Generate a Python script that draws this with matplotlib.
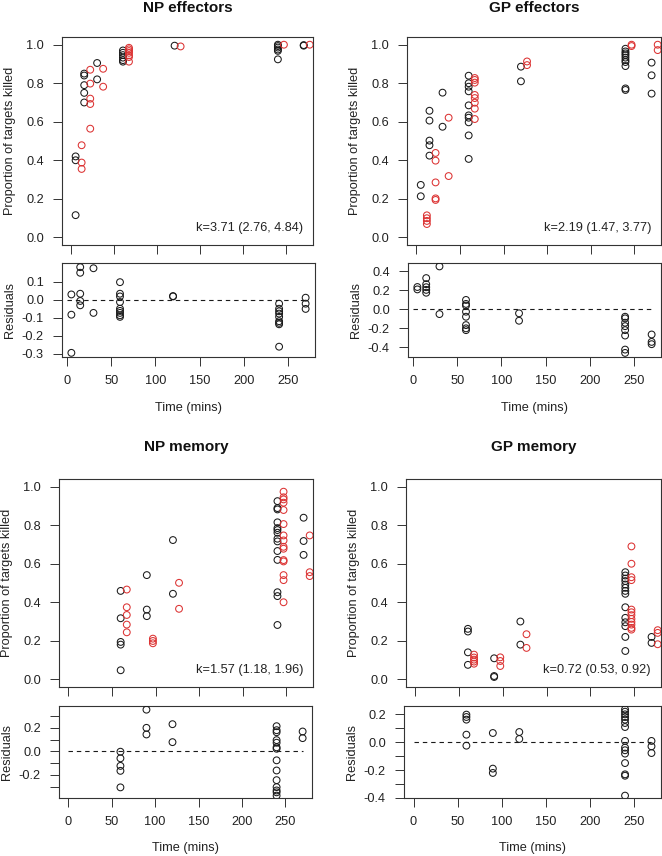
import matplotlib
matplotlib.use("Agg")
import matplotlib.pyplot as plt
import numpy as np

plt.rcParams['font.family'] = ['Liberation Sans', 'DejaVu Sans']
plt.rcParams['axes.unicode_minus'] = False

# ---------------- data ----------------
titles = ["NP effectors", "GP effectors", "NP memory", "GP memory"]
k_labels = ["k=3.71 (2.76, 4.84)", "k=2.19 (1.47, 3.77)",
            "k=1.57 (1.18, 1.96)", "k=0.72 (0.53, 0.92)"]

# NP effectors
np_eff_black_t = [5]*3 + [15]*5 + [30]*2 + [60]*6 + [120] + [240]*6 + [270]*2
np_eff_black_y = [0.42, 0.40, 0.115,
                  0.85, 0.84, 0.79, 0.75, 0.70,
                  0.905, 0.82,
                  0.97, 0.958, 0.946, 0.933, 0.92, 0.912,
                  0.995,
                  1.0, 0.993, 0.985, 0.975, 0.968, 0.924,
                  0.998, 0.995]
np_eff_red_t = [5]*3 + [15]*5 + [30]*2 + [60]*7 + [120] + [240] + [270]
np_eff_red_y = [0.478, 0.388, 0.355,
                0.87, 0.798, 0.72, 0.692, 0.564,
                0.875, 0.782,
                0.984, 0.976, 0.967, 0.958, 0.945, 0.936, 0.912,
                0.991, 1.0, 1.0]
np_eff_res_t = [5]*3 + [15]*5 + [30]*2 + [60]*9 + [120]*2 + [240]*9 + [270]*3
np_eff_res = [0.029, -0.083, -0.294,
              0.18, 0.149, 0.033, -0.007, -0.031,
              0.174, -0.073,
              0.097, 0.033, 0.018, -0.013, -0.05, -0.062, -0.073, -0.086, -0.095,
              0.02, 0.018,
              -0.022, -0.05, -0.064, -0.077, -0.095, -0.119, -0.128, -0.136, -0.26,
              0.011, -0.022, -0.051]

# GP effectors
gp_eff_black_t = [5]*2 + [15]*5 + [30]*2 + [60]*10 + [120]*2 + [240]*10 + [270]*3
gp_eff_black_y = [0.272, 0.213,
                  0.657, 0.606, 0.502, 0.478, 0.424,
                  0.751, 0.574,
                  0.839, 0.80, 0.782, 0.758, 0.685, 0.633, 0.621, 0.597, 0.529, 0.407,
                  0.886, 0.81,
                  0.979, 0.965, 0.955, 0.945, 0.933, 0.92, 0.91, 0.889, 0.773, 0.765,
                  0.907, 0.841, 0.746]
gp_eff_red_t = [5]*4 + [15]*5 + [30]*2 + [60]*8 + [120]*2 + [240]*2 + [270]*2
gp_eff_red_y = [0.114, 0.099, 0.085, 0.069,
                0.438, 0.398, 0.285, 0.202, 0.194,
                0.621, 0.318,
                0.827, 0.817, 0.803, 0.739, 0.723, 0.699, 0.668, 0.614,
                0.913, 0.894,
                1.0, 0.993,
                1.0, 0.972]
gp_eff_res_t = [5]*2 + [15]*5 + [30]*2 + [60]*8 + [120]*2 + [240]*8 + [270]*3
gp_eff_res = [0.235, 0.21,
              0.329, 0.265, 0.233, 0.205, 0.175,
              0.452, -0.05,
              0.099, 0.057, 0.039, -0.025, -0.078, -0.166, -0.20, -0.219,
              -0.042, -0.12,
              -0.078, -0.095, -0.141, -0.177, -0.219, -0.276, -0.424, -0.459,
              -0.265, -0.343, -0.367]

# NP memory
np_mem_black_t = [60]*5 + [90]*3 + [120]*2 + [240]*14 + [270]*3
np_mem_black_y = [0.459, 0.317, 0.194, 0.18, 0.047,
                  0.541, 0.362, 0.328,
                  0.723, 0.444,
                  0.925, 0.889, 0.882, 0.815, 0.785, 0.775, 0.761, 0.73, 0.716,
                  0.666, 0.62, 0.452, 0.432, 0.282,
                  0.839, 0.718, 0.646]
np_mem_red_t = [60]*5 + [90]*3 + [120]*2 + [240]*15 + [270]*3
np_mem_red_y = [0.466, 0.374, 0.334, 0.284, 0.244,
                0.211, 0.199, 0.187,
                0.501, 0.366,
                0.974, 0.945, 0.934, 0.917, 0.879, 0.806, 0.747, 0.721, 0.688,
                0.678, 0.619, 0.612, 0.541, 0.515, 0.40,
                0.747, 0.556, 0.536]
np_mem_res_t = [60]*5 + [90]*3 + [120]*2 + [240]*14 + [270]*2
np_mem_res = [-0.003, -0.059, -0.123, -0.165, -0.305,
              0.353, 0.199, 0.143,
              0.23, 0.078,
              0.213, 0.179, 0.162, 0.095, 0.073, 0.034, 0.022, -0.076, -0.162,
              -0.244, -0.303, -0.331, -0.347, -0.375,
              0.168, 0.112]

# GP memory
gp_mem_black_t = [60]*4 + [90]*3 + [120]*2 + [240]*14 + [270]*2
gp_mem_black_y = [0.262, 0.248, 0.14, 0.075,
                  0.109, 0.017, 0.012,
                  0.30, 0.18,
                  0.556, 0.539, 0.523, 0.51, 0.492, 0.475, 0.459, 0.444, 0.374,
                  0.319, 0.296, 0.276, 0.22, 0.147,
                  0.22, 0.189]
gp_mem_red_t = [60]*5 + [90]*3 + [120]*2 + [240]*12 + [270]*3
gp_mem_red_y = [0.128, 0.113, 0.102, 0.092, 0.081,
                0.114, 0.095, 0.069,
                0.234, 0.163,
                0.69, 0.60, 0.53, 0.515, 0.362, 0.348, 0.333, 0.314, 0.298,
                0.284, 0.267, 0.258,
                0.255, 0.241, 0.182]
gp_mem_res_t = [60]*5 + [90]*3 + [120]*2 + [240]*15 + [270]*3
gp_mem_res = [0.199, 0.182, 0.163, 0.055, -0.024,
              0.067, -0.189, -0.22,
              0.074, 0.024,
              0.237, 0.22, 0.201, 0.182, 0.163, 0.139, 0.11, 0.01, -0.038,
              -0.057, -0.081, -0.149, -0.23, -0.24, -0.383,
              0.01, -0.029, -0.077]

top_yticks = [0.0, 0.2, 0.4, 0.6, 0.8, 1.0]
x_ticks = [0, 50, 100, 150, 200, 250]
res_yticks = [[-0.3, -0.2, -0.1, 0.0, 0.1],
              [-0.4, -0.2, 0.0, 0.2, 0.4],
              [-0.3, -0.2, -0.1, 0.0, 0.1, 0.2, 0.3],
              [-0.4, -0.3, -0.2, -0.1, 0.0, 0.1, 0.2]]
res_ylabels = [["-0.3", "-0.2", "-0.1", "0.0", "0.1"],
               ["-0.4", "-0.2", "0.0", "0.2", "0.4"],
               ["", "-0.2", "", "0.0", "", "0.2", ""],
               ["-0.4", "", "-0.2", "", "0.0", "", "0.2"]]

panels = [
    (np_eff_black_t, np_eff_black_y, np_eff_red_t, np_eff_red_y, np_eff_res_t, np_eff_res),
    (gp_eff_black_t, gp_eff_black_y, gp_eff_red_t, gp_eff_red_y, gp_eff_res_t, gp_eff_res),
    (np_mem_black_t, np_mem_black_y, np_mem_red_t, np_mem_red_y, np_mem_res_t, np_mem_res),
    (gp_mem_black_t, gp_mem_black_y, gp_mem_red_t, gp_mem_red_y, gp_mem_res_t, gp_mem_res),
]

# ---------------- layout (pixel boxes) ----------------
W, H = 662, 856
top_boxes = [(62, 37, 313, 245), (407, 37, 661, 245),
             (59, 479, 313, 687), (406, 479, 661, 687)]
res_boxes = [(62, 263, 315, 357), (408, 263, 661, 357),
             (59, 706, 312, 798), (404, 706, 661, 798)]
title_y_px = [8.5, 8.5, 447, 447]
res_ylims = [(-0.317, 0.203), (-0.502, 0.488), (-0.395, 0.384), (-0.40, 0.261)]
res_xlims = [(-5.6, 280.6), (-5.6, 280.6), (-10.8, 280.8), (-10.8, 280.8)]
top_xlim = (-10.8, 280.8)
red_offset = 7

BLACK = '#1a1a1a'
RED = '#dc3232'
TXT = '#222222'
FS = 9.2

fig = plt.figure(figsize=(W / 100, H / 100), dpi=100)


def make_ax(box):
    x0, y0, x1, y1 = box
    return fig.add_axes([x0 / W, 1 - y1 / H, (x1 - x0) / W, (y1 - y0) / H])


def style(ax):
    for s in ax.spines.values():
        s.set_linewidth(0.8)
        s.set_color('#333333')
    ax.tick_params(direction='out', length=6.3, width=0.7, colors='#333333',
                   labelcolor=TXT, labelsize=FS, pad=6.8)


for i, (bt, by, rt, ry, et, er) in enumerate(panels):
    tb = top_boxes[i]
    rb = res_boxes[i]
    ax = make_ax(tb)
    style(ax)
    ax.scatter(bt, by, s=24, facecolors='none', edgecolors=BLACK, linewidths=0.75, zorder=3)
    ax.scatter(np.array(rt) + red_offset, ry, s=24, facecolors='none', edgecolors=RED,
               linewidths=0.75, zorder=3)
    ax.set_xlim(*top_xlim)
    ax.set_ylim(-0.04, 1.04)
    ax.set_xticks(x_ticks)
    ax.set_xticklabels([])
    ax.set_yticks(top_yticks)
    ax.set_yticklabels(["%.1f" % v for v in top_yticks])
    ax.set_ylabel("Proportion of targets killed", fontsize=FS, color=TXT)
    wpx = tb[2] - tb[0]
    hpx = tb[3] - tb[1]
    ax.yaxis.set_label_coords(-52 / wpx, 0.5)
    ax.yaxis.label.set_verticalalignment('center')
    ax.set_title(titles[i], fontsize=11, fontweight='bold', color='#111111',
                 y=1 + (tb[1] - title_y_px[i]) / hpx, va='center', pad=0)
    ax.text(1 - 10 / wpx, 17 / hpx, k_labels[i], transform=ax.transAxes,
            ha='right', va='center', fontsize=FS, color=TXT)

    ax2 = make_ax(rb)
    style(ax2)
    ax2.plot([0, 270], [0, 0], ls=(0, (4, 3.5)), color=BLACK, lw=0.8, zorder=2)
    ax2.scatter(et, er, s=24, facecolors='none', edgecolors=BLACK, linewidths=0.75, zorder=3)
    ax2.set_xlim(*res_xlims[i])
    ax2.set_ylim(*res_ylims[i])
    ax2.set_xticks(x_ticks)
    ax2.set_xticklabels([str(v) for v in x_ticks])
    ax2.set_yticks(res_yticks[i])
    ax2.set_yticklabels(res_ylabels[i])
    ax2.set_ylabel("Residuals", fontsize=FS, color=TXT)
    w2 = rb[2] - rb[0]
    h2 = rb[3] - rb[1]
    ax2.yaxis.set_label_coords(-52 / w2, 0.5)
    ax2.yaxis.label.set_verticalalignment('center')
    ax2.set_xlabel("Time (mins)", fontsize=FS, color=TXT)
    ax2.xaxis.set_label_coords(0.5, -50.5 / h2)
    ax2.xaxis.label.set_verticalalignment('center')

fig.savefig("out.png", dpi=100, facecolor='white')
